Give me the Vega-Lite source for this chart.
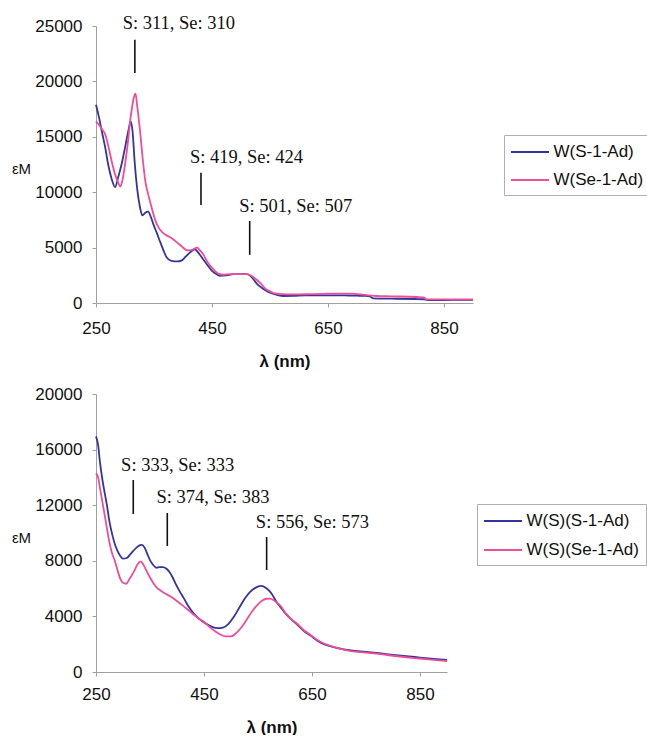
{
  "$schema": "https://vega.github.io/schema/vega-lite/v6.json",
  "padding": {"left": 11, "top": 14, "right": 0, "bottom": 0},
  "spacing": 16,
  "background": "white",
  "config": {
    "view": {"stroke": null},
    "axis": {
      "domainColor": "#a0a0a0", "tickColor": "#a0a0a0", "grid": false, "tickSize": 4,
      "labelFont": "Liberation Sans", "labelFontSize": 17, "labelColor": "#111",
      "titleFont": "Liberation Sans", "titleColor": "#111"
    },
    "legend": {
      "orient": "none", "title": null, "symbolType": "M-2,0H2", "symbolSize": 361,
      "symbolStrokeWidth": 2, "symbolOffset": 9, "labelOffset": 13, "rowPadding": 9,
      "padding": 6.5, "strokeColor": "#b0b0b0", "fillColor": "white",
      "labelFont": "Liberation Sans", "labelFontSize": 17, "labelColor": "#111", "labelLimit": 300
    }
  },
  "resolve": {"scale": {"color": "independent"}},
  "datasets": {
    "top": [
      {"series":"W(S-1-Ad)","nm":250,"eps":17900},{"series":"W(S-1-Ad)","nm":255,"eps":16800},{"series":"W(S-1-Ad)","nm":260,"eps":15500},{"series":"W(S-1-Ad)","nm":266,"eps":14000},{"series":"W(S-1-Ad)","nm":271,"eps":12500},{"series":"W(S-1-Ad)","nm":277,"eps":11200},{"series":"W(S-1-Ad)","nm":283,"eps":10450},{"series":"W(S-1-Ad)","nm":288,"eps":11300},{"series":"W(S-1-Ad)","nm":294,"eps":12500},{"series":"W(S-1-Ad)","nm":300,"eps":14000},{"series":"W(S-1-Ad)","nm":306,"eps":15600},{"series":"W(S-1-Ad)","nm":310,"eps":16400},{"series":"W(S-1-Ad)","nm":313,"eps":15500},{"series":"W(S-1-Ad)","nm":317,"eps":12500},{"series":"W(S-1-Ad)","nm":321,"eps":10300},{"series":"W(S-1-Ad)","nm":326,"eps":8600},{"series":"W(S-1-Ad)","nm":330,"eps":7900},{"series":"W(S-1-Ad)","nm":335,"eps":8150},{"series":"W(S-1-Ad)","nm":340,"eps":8250},{"series":"W(S-1-Ad)","nm":345,"eps":7700},{"series":"W(S-1-Ad)","nm":349,"eps":7100},{"series":"W(S-1-Ad)","nm":355,"eps":6300},{"series":"W(S-1-Ad)","nm":360,"eps":5600},{"series":"W(S-1-Ad)","nm":366,"eps":4800},{"series":"W(S-1-Ad)","nm":372,"eps":4100},{"series":"W(S-1-Ad)","nm":380,"eps":3800},{"series":"W(S-1-Ad)","nm":390,"eps":3750},{"series":"W(S-1-Ad)","nm":398,"eps":3850},{"series":"W(S-1-Ad)","nm":405,"eps":4200},{"series":"W(S-1-Ad)","nm":413,"eps":4600},{"series":"W(S-1-Ad)","nm":420,"eps":4850},{"series":"W(S-1-Ad)","nm":427,"eps":4500},{"series":"W(S-1-Ad)","nm":434,"eps":4000},{"series":"W(S-1-Ad)","nm":441,"eps":3500},{"series":"W(S-1-Ad)","nm":450,"eps":2900},{"series":"W(S-1-Ad)","nm":458,"eps":2600},{"series":"W(S-1-Ad)","nm":464,"eps":2450},{"series":"W(S-1-Ad)","nm":475,"eps":2500},{"series":"W(S-1-Ad)","nm":487,"eps":2600},{"series":"W(S-1-Ad)","nm":500,"eps":2600},{"series":"W(S-1-Ad)","nm":510,"eps":2600},{"series":"W(S-1-Ad)","nm":516,"eps":2450},{"series":"W(S-1-Ad)","nm":522,"eps":2100},{"series":"W(S-1-Ad)","nm":528,"eps":1700},{"series":"W(S-1-Ad)","nm":535,"eps":1400},{"series":"W(S-1-Ad)","nm":542,"eps":1150},{"series":"W(S-1-Ad)","nm":550,"eps":930},{"series":"W(S-1-Ad)","nm":557,"eps":800},{"series":"W(S-1-Ad)","nm":565,"eps":680},{"series":"W(S-1-Ad)","nm":573,"eps":630},{"series":"W(S-1-Ad)","nm":590,"eps":640},{"series":"W(S-1-Ad)","nm":610,"eps":700},{"series":"W(S-1-Ad)","nm":630,"eps":680},{"series":"W(S-1-Ad)","nm":650,"eps":690},{"series":"W(S-1-Ad)","nm":680,"eps":680},{"series":"W(S-1-Ad)","nm":700,"eps":660},{"series":"W(S-1-Ad)","nm":715,"eps":640},{"series":"W(S-1-Ad)","nm":722,"eps":600},{"series":"W(S-1-Ad)","nm":728,"eps":420},{"series":"W(S-1-Ad)","nm":760,"eps":390},{"series":"W(S-1-Ad)","nm":800,"eps":360},{"series":"W(S-1-Ad)","nm":815,"eps":340},{"series":"W(S-1-Ad)","nm":822,"eps":270},{"series":"W(S-1-Ad)","nm":850,"eps":270},{"series":"W(S-1-Ad)","nm":880,"eps":280},{"series":"W(S-1-Ad)","nm":900,"eps":280},
      {"series":"W(Se-1-Ad)","nm":250,"eps":16400},{"series":"W(Se-1-Ad)","nm":255,"eps":16100},{"series":"W(Se-1-Ad)","nm":260,"eps":15700},{"series":"W(Se-1-Ad)","nm":266,"eps":15200},{"series":"W(Se-1-Ad)","nm":272,"eps":14000},{"series":"W(Se-1-Ad)","nm":277,"eps":12800},{"series":"W(Se-1-Ad)","nm":283,"eps":11600},{"series":"W(Se-1-Ad)","nm":288,"eps":10900},{"series":"W(Se-1-Ad)","nm":292,"eps":10500},{"series":"W(Se-1-Ad)","nm":296,"eps":11200},{"series":"W(Se-1-Ad)","nm":300,"eps":12500},{"series":"W(Se-1-Ad)","nm":305,"eps":14500},{"series":"W(Se-1-Ad)","nm":309,"eps":16500},{"series":"W(Se-1-Ad)","nm":312,"eps":17600},{"series":"W(Se-1-Ad)","nm":315,"eps":18500},{"series":"W(Se-1-Ad)","nm":318,"eps":18900},{"series":"W(Se-1-Ad)","nm":321,"eps":17800},{"series":"W(Se-1-Ad)","nm":326,"eps":15500},{"series":"W(Se-1-Ad)","nm":330,"eps":13300},{"series":"W(Se-1-Ad)","nm":335,"eps":11000},{"series":"W(Se-1-Ad)","nm":340,"eps":9800},{"series":"W(Se-1-Ad)","nm":346,"eps":8600},{"series":"W(Se-1-Ad)","nm":352,"eps":7500},{"series":"W(Se-1-Ad)","nm":358,"eps":6800},{"series":"W(Se-1-Ad)","nm":364,"eps":6400},{"series":"W(Se-1-Ad)","nm":370,"eps":6150},{"series":"W(Se-1-Ad)","nm":377,"eps":5950},{"series":"W(Se-1-Ad)","nm":383,"eps":5750},{"series":"W(Se-1-Ad)","nm":390,"eps":5450},{"series":"W(Se-1-Ad)","nm":398,"eps":5100},{"series":"W(Se-1-Ad)","nm":405,"eps":4800},{"series":"W(Se-1-Ad)","nm":412,"eps":4750},{"series":"W(Se-1-Ad)","nm":418,"eps":4850},{"series":"W(Se-1-Ad)","nm":424,"eps":4990},{"series":"W(Se-1-Ad)","nm":430,"eps":4700},{"series":"W(Se-1-Ad)","nm":436,"eps":4300},{"series":"W(Se-1-Ad)","nm":441,"eps":3800},{"series":"W(Se-1-Ad)","nm":448,"eps":3300},{"series":"W(Se-1-Ad)","nm":455,"eps":2900},{"series":"W(Se-1-Ad)","nm":461,"eps":2650},{"series":"W(Se-1-Ad)","nm":470,"eps":2550},{"series":"W(Se-1-Ad)","nm":480,"eps":2600},{"series":"W(Se-1-Ad)","nm":495,"eps":2600},{"series":"W(Se-1-Ad)","nm":510,"eps":2600},{"series":"W(Se-1-Ad)","nm":516,"eps":2500},{"series":"W(Se-1-Ad)","nm":522,"eps":2300},{"series":"W(Se-1-Ad)","nm":528,"eps":2050},{"series":"W(Se-1-Ad)","nm":535,"eps":1700},{"series":"W(Se-1-Ad)","nm":542,"eps":1300},{"series":"W(Se-1-Ad)","nm":550,"eps":1050},{"series":"W(Se-1-Ad)","nm":556,"eps":900},{"series":"W(Se-1-Ad)","nm":562,"eps":840},{"series":"W(Se-1-Ad)","nm":580,"eps":780},{"series":"W(Se-1-Ad)","nm":600,"eps":780},{"series":"W(Se-1-Ad)","nm":620,"eps":800},{"series":"W(Se-1-Ad)","nm":640,"eps":820},{"series":"W(Se-1-Ad)","nm":648,"eps":840},{"series":"W(Se-1-Ad)","nm":690,"eps":840},{"series":"W(Se-1-Ad)","nm":700,"eps":800},{"series":"W(Se-1-Ad)","nm":734,"eps":630},{"series":"W(Se-1-Ad)","nm":760,"eps":600},{"series":"W(Se-1-Ad)","nm":803,"eps":540},{"series":"W(Se-1-Ad)","nm":815,"eps":500},{"series":"W(Se-1-Ad)","nm":820,"eps":330},{"series":"W(Se-1-Ad)","nm":860,"eps":330},{"series":"W(Se-1-Ad)","nm":900,"eps":330}
    ],
    "bottom": [
      {"series":"W(S)(S-1-Ad)","nm":250,"eps":16950},{"series":"W(S)(S-1-Ad)","nm":254,"eps":16300},{"series":"W(S)(S-1-Ad)","nm":257,"eps":15200},{"series":"W(S)(S-1-Ad)","nm":262,"eps":13800},{"series":"W(S)(S-1-Ad)","nm":266,"eps":12900},{"series":"W(S)(S-1-Ad)","nm":270,"eps":12060},{"series":"W(S)(S-1-Ad)","nm":275,"eps":10800},{"series":"W(S)(S-1-Ad)","nm":280,"eps":9900},{"series":"W(S)(S-1-Ad)","nm":285,"eps":9190},{"series":"W(S)(S-1-Ad)","nm":290,"eps":8700},{"series":"W(S)(S-1-Ad)","nm":295,"eps":8350},{"series":"W(S)(S-1-Ad)","nm":300,"eps":8150},{"series":"W(S)(S-1-Ad)","nm":307,"eps":8200},{"series":"W(S)(S-1-Ad)","nm":313,"eps":8450},{"series":"W(S)(S-1-Ad)","nm":320,"eps":8750},{"series":"W(S)(S-1-Ad)","nm":328,"eps":9050},{"series":"W(S)(S-1-Ad)","nm":335,"eps":9140},{"series":"W(S)(S-1-Ad)","nm":340,"eps":8950},{"series":"W(S)(S-1-Ad)","nm":345,"eps":8500},{"series":"W(S)(S-1-Ad)","nm":350,"eps":8050},{"series":"W(S)(S-1-Ad)","nm":356,"eps":7700},{"series":"W(S)(S-1-Ad)","nm":362,"eps":7500},{"series":"W(S)(S-1-Ad)","nm":368,"eps":7550},{"series":"W(S)(S-1-Ad)","nm":374,"eps":7550},{"series":"W(S)(S-1-Ad)","nm":380,"eps":7450},{"series":"W(S)(S-1-Ad)","nm":386,"eps":7200},{"series":"W(S)(S-1-Ad)","nm":392,"eps":6800},{"series":"W(S)(S-1-Ad)","nm":398,"eps":6300},{"series":"W(S)(S-1-Ad)","nm":405,"eps":5800},{"series":"W(S)(S-1-Ad)","nm":412,"eps":5350},{"series":"W(S)(S-1-Ad)","nm":420,"eps":4800},{"series":"W(S)(S-1-Ad)","nm":428,"eps":4350},{"series":"W(S)(S-1-Ad)","nm":436,"eps":4000},{"series":"W(S)(S-1-Ad)","nm":445,"eps":3700},{"series":"W(S)(S-1-Ad)","nm":455,"eps":3450},{"series":"W(S)(S-1-Ad)","nm":465,"eps":3250},{"series":"W(S)(S-1-Ad)","nm":475,"eps":3150},{"series":"W(S)(S-1-Ad)","nm":485,"eps":3200},{"series":"W(S)(S-1-Ad)","nm":495,"eps":3450},{"series":"W(S)(S-1-Ad)","nm":505,"eps":3950},{"series":"W(S)(S-1-Ad)","nm":515,"eps":4600},{"series":"W(S)(S-1-Ad)","nm":525,"eps":5250},{"series":"W(S)(S-1-Ad)","nm":535,"eps":5750},{"series":"W(S)(S-1-Ad)","nm":545,"eps":6050},{"series":"W(S)(S-1-Ad)","nm":555,"eps":6190},{"series":"W(S)(S-1-Ad)","nm":565,"eps":6050},{"series":"W(S)(S-1-Ad)","nm":575,"eps":5650},{"series":"W(S)(S-1-Ad)","nm":585,"eps":5000},{"series":"W(S)(S-1-Ad)","nm":592,"eps":4650},{"series":"W(S)(S-1-Ad)","nm":600,"eps":4250},{"series":"W(S)(S-1-Ad)","nm":610,"eps":3850},{"series":"W(S)(S-1-Ad)","nm":623,"eps":3400},{"series":"W(S)(S-1-Ad)","nm":635,"eps":2950},{"series":"W(S)(S-1-Ad)","nm":648,"eps":2600},{"series":"W(S)(S-1-Ad)","nm":660,"eps":2250},{"series":"W(S)(S-1-Ad)","nm":672,"eps":2000},{"series":"W(S)(S-1-Ad)","nm":685,"eps":1850},{"series":"W(S)(S-1-Ad)","nm":700,"eps":1700},{"series":"W(S)(S-1-Ad)","nm":722,"eps":1560},{"series":"W(S)(S-1-Ad)","nm":750,"eps":1450},{"series":"W(S)(S-1-Ad)","nm":778,"eps":1330},{"series":"W(S)(S-1-Ad)","nm":800,"eps":1230},{"series":"W(S)(S-1-Ad)","nm":820,"eps":1150},{"series":"W(S)(S-1-Ad)","nm":840,"eps":1080},{"series":"W(S)(S-1-Ad)","nm":860,"eps":1000},{"series":"W(S)(S-1-Ad)","nm":880,"eps":930},{"series":"W(S)(S-1-Ad)","nm":900,"eps":870},
      {"series":"W(S)(Se-1-Ad)","nm":250,"eps":14300},{"series":"W(S)(Se-1-Ad)","nm":254,"eps":14000},{"series":"W(S)(Se-1-Ad)","nm":257,"eps":13300},{"series":"W(S)(Se-1-Ad)","nm":262,"eps":12200},{"series":"W(S)(Se-1-Ad)","nm":266,"eps":11300},{"series":"W(S)(Se-1-Ad)","nm":270,"eps":10380},{"series":"W(S)(Se-1-Ad)","nm":275,"eps":9300},{"series":"W(S)(Se-1-Ad)","nm":280,"eps":8500},{"series":"W(S)(Se-1-Ad)","nm":285,"eps":7990},{"series":"W(S)(Se-1-Ad)","nm":290,"eps":7300},{"series":"W(S)(Se-1-Ad)","nm":295,"eps":6700},{"series":"W(S)(Se-1-Ad)","nm":300,"eps":6420},{"series":"W(S)(Se-1-Ad)","nm":306,"eps":6350},{"series":"W(S)(Se-1-Ad)","nm":312,"eps":6700},{"series":"W(S)(Se-1-Ad)","nm":320,"eps":7200},{"series":"W(S)(Se-1-Ad)","nm":327,"eps":7750},{"series":"W(S)(Se-1-Ad)","nm":333,"eps":7960},{"series":"W(S)(Se-1-Ad)","nm":338,"eps":7700},{"series":"W(S)(Se-1-Ad)","nm":344,"eps":7250},{"series":"W(S)(Se-1-Ad)","nm":350,"eps":6800},{"series":"W(S)(Se-1-Ad)","nm":357,"eps":6350},{"series":"W(S)(Se-1-Ad)","nm":363,"eps":6060},{"series":"W(S)(Se-1-Ad)","nm":370,"eps":5850},{"series":"W(S)(Se-1-Ad)","nm":378,"eps":5650},{"series":"W(S)(Se-1-Ad)","nm":387,"eps":5450},{"series":"W(S)(Se-1-Ad)","nm":395,"eps":5250},{"series":"W(S)(Se-1-Ad)","nm":405,"eps":4950},{"series":"W(S)(Se-1-Ad)","nm":418,"eps":4550},{"series":"W(S)(Se-1-Ad)","nm":430,"eps":4150},{"series":"W(S)(Se-1-Ad)","nm":440,"eps":3850},{"series":"W(S)(Se-1-Ad)","nm":450,"eps":3600},{"series":"W(S)(Se-1-Ad)","nm":460,"eps":3250},{"series":"W(S)(Se-1-Ad)","nm":470,"eps":2950},{"series":"W(S)(Se-1-Ad)","nm":480,"eps":2700},{"series":"W(S)(Se-1-Ad)","nm":490,"eps":2560},{"series":"W(S)(Se-1-Ad)","nm":500,"eps":2560},{"series":"W(S)(Se-1-Ad)","nm":508,"eps":2750},{"series":"W(S)(Se-1-Ad)","nm":518,"eps":3150},{"series":"W(S)(Se-1-Ad)","nm":528,"eps":3700},{"series":"W(S)(Se-1-Ad)","nm":538,"eps":4300},{"series":"W(S)(Se-1-Ad)","nm":548,"eps":4800},{"series":"W(S)(Se-1-Ad)","nm":558,"eps":5150},{"series":"W(S)(Se-1-Ad)","nm":566,"eps":5270},{"series":"W(S)(Se-1-Ad)","nm":572,"eps":5280},{"series":"W(S)(Se-1-Ad)","nm":580,"eps":5150},{"series":"W(S)(Se-1-Ad)","nm":592,"eps":4750},{"series":"W(S)(Se-1-Ad)","nm":600,"eps":4300},{"series":"W(S)(Se-1-Ad)","nm":610,"eps":3850},{"series":"W(S)(Se-1-Ad)","nm":623,"eps":3450},{"series":"W(S)(Se-1-Ad)","nm":635,"eps":3000},{"series":"W(S)(Se-1-Ad)","nm":648,"eps":2650},{"series":"W(S)(Se-1-Ad)","nm":660,"eps":2300},{"series":"W(S)(Se-1-Ad)","nm":672,"eps":2050},{"series":"W(S)(Se-1-Ad)","nm":685,"eps":1870},{"series":"W(S)(Se-1-Ad)","nm":700,"eps":1700},{"series":"W(S)(Se-1-Ad)","nm":722,"eps":1500},{"series":"W(S)(Se-1-Ad)","nm":750,"eps":1400},{"series":"W(S)(Se-1-Ad)","nm":778,"eps":1280},{"series":"W(S)(Se-1-Ad)","nm":800,"eps":1170},{"series":"W(S)(Se-1-Ad)","nm":820,"eps":1080},{"series":"W(S)(Se-1-Ad)","nm":840,"eps":1000},{"series":"W(S)(Se-1-Ad)","nm":860,"eps":930},{"series":"W(S)(Se-1-Ad)","nm":880,"eps":860},{"series":"W(S)(Se-1-Ad)","nm":900,"eps":790}
    ],
    "topRules": [
      {"nm":317,"y1":20750,"y2":23750},{"nm":431,"y1":8850,"y2":11750},{"nm":515,"y1":4350,"y2":7400}
    ],
    "topText": [
      {"label":"S: 311, Se: 310","nm":296,"eps":24700},{"label":"S: 419, Se: 424","nm":412,"eps":12600},{"label":"S: 501, Se: 507","nm":497,"eps":8200}
    ],
    "bottomRules": [
      {"nm":319,"y1":11370,"y2":13810},{"nm":382,"y1":9070,"y2":11440},{"nm":566,"y1":7340,"y2":9710}
    ],
    "bottomText": [
      {"label":"S: 333, Se: 333","nm":296.5,"eps":14460},{"label":"S: 374, Se: 383","nm":362,"eps":12160},{"label":"S: 556, Se: 573","nm":546,"eps":10360}
    ]
  },
  "vconcat": [
    {
      "width": 377, "height": 277,
      "layer": [
        {
          "data": {"name": "top"},
          "mark": {"type": "line", "strokeWidth": 1.8, "interpolate": "monotone"},
          "encoding": {
            "x": {"field": "nm", "type": "quantitative", "scale": {"domain": [250, 900], "nice": false},
                  "axis": {"values": [250, 450, 650, 850], "title": "λ (nm)", "titleFontSize": 17, "titleFontWeight": "bold", "labelPadding": 13, "titlePadding": 17, "labelFlush": false}},
            "y": {"field": "eps", "type": "quantitative", "scale": {"domain": [0, 25000], "nice": false},
                  "axis": {"values": [0, 5000, 10000, 15000, 20000, 25000], "format": "d", "title": "εM", "titleAngle": 0, "titleX": -75, "titleY": 142, "titleAlign": "center", "titleBaseline": "middle", "titleFontSize": 15, "titleFontWeight": "normal", "labelPadding": 10}},
            "color": {"field": "series", "type": "nominal",
                      "scale": {"domain": ["W(S-1-Ad)", "W(Se-1-Ad)"], "range": ["#34349a", "#ee4d9a"]},
                      "legend": {"legendX": 408, "legendY": 109}},
            "order": {"field": "nm", "type": "quantitative"}
          }
        },
        {
          "data": {"name": "topRules"},
          "mark": {"type": "rule", "color": "#111", "strokeWidth": 1.6},
          "encoding": {
            "x": {"field": "nm", "type": "quantitative"},
            "y": {"field": "y1", "type": "quantitative"},
            "y2": {"field": "y2"}
          }
        },
        {
          "data": {"name": "topText"},
          "mark": {"type": "text", "align": "left", "baseline": "alphabetic", "font": "Liberation Serif", "fontSize": 18.5, "color": "#111"},
          "encoding": {
            "x": {"field": "nm", "type": "quantitative"},
            "y": {"field": "eps", "type": "quantitative"},
            "text": {"field": "label"}
          }
        }
      ]
    },
    {
      "width": 351, "height": 278,
      "layer": [
        {
          "data": {"name": "bottom"},
          "mark": {"type": "line", "strokeWidth": 1.8, "interpolate": "monotone"},
          "encoding": {
            "x": {"field": "nm", "type": "quantitative", "scale": {"domain": [250, 900], "nice": false},
                  "axis": {"values": [250, 450, 650, 850], "title": "λ (nm)", "titleFontSize": 17, "titleFontWeight": "bold", "labelPadding": 10, "titlePadding": 17, "labelFlush": false}},
            "y": {"field": "eps", "type": "quantitative", "scale": {"domain": [0, 20000], "nice": false},
                  "axis": {"values": [0, 4000, 8000, 12000, 16000, 20000], "format": "d", "title": "εM", "titleAngle": 0, "titleX": -75, "titleY": 143, "titleAlign": "center", "titleBaseline": "middle", "titleFontSize": 15, "titleFontWeight": "normal", "labelPadding": 10}},
            "color": {"field": "series", "type": "nominal",
                      "scale": {"domain": ["W(S)(S-1-Ad)", "W(S)(Se-1-Ad)"], "range": ["#34349a", "#ee4d9a"]},
                      "legend": {"legendX": 381, "legendY": 110, "rowPadding": 10}},
            "order": {"field": "nm", "type": "quantitative"}
          }
        },
        {
          "data": {"name": "bottomRules"},
          "mark": {"type": "rule", "color": "#111", "strokeWidth": 1.6},
          "encoding": {
            "x": {"field": "nm", "type": "quantitative"},
            "y": {"field": "y1", "type": "quantitative"},
            "y2": {"field": "y2"}
          }
        },
        {
          "data": {"name": "bottomText"},
          "mark": {"type": "text", "align": "left", "baseline": "alphabetic", "font": "Liberation Serif", "fontSize": 18.5, "color": "#111"},
          "encoding": {
            "x": {"field": "nm", "type": "quantitative"},
            "y": {"field": "eps", "type": "quantitative"},
            "text": {"field": "label"}
          }
        }
      ]
    }
  ]
}
